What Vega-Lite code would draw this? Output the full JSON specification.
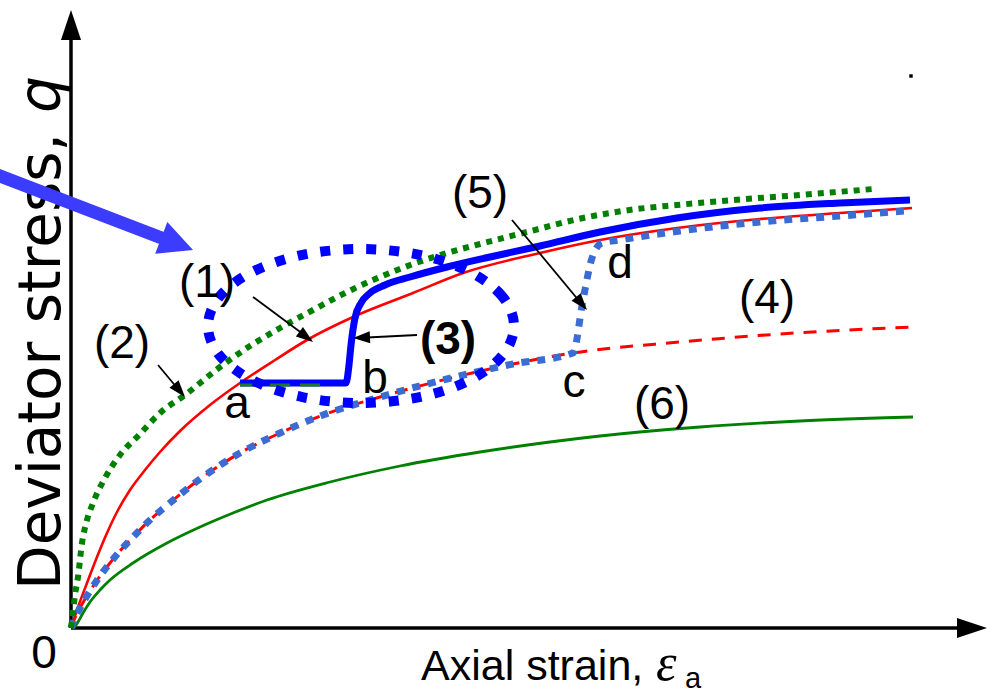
{
  "$schema": "https://vega.github.io/schema/vega-lite/v6.json",
  "width": 994,
  "height": 693,
  "autosize": {"type": "none"},
  "padding": 0,
  "background": "white",
  "config": {"view": {"stroke": null}},
  "datasets": {
    "curves": [
      {"c": "red", "x": 0, "y": 0}, {"c": "red", "x": 0.3, "y": 0.9}, {"c": "red", "x": 0.6, "y": 1.8}, {"c": "red", "x": 1.6, "y": 4.5}, {"c": "red", "x": 2.6, "y": 7.1}, {"c": "red", "x": 3.6, "y": 9.5}, {"c": "red", "x": 4.6, "y": 11.6}, {"c": "red", "x": 5.9, "y": 13.8}, {"c": "red", "x": 7.4, "y": 15.8}, {"c": "red", "x": 8.9, "y": 17.6}, {"c": "red", "x": 10.9, "y": 19.7}, {"c": "red", "x": 13.9, "y": 22.3}, {"c": "red", "x": 16.9, "y": 24.5}, {"c": "red", "x": 20.4, "y": 26.8}, {"c": "red", "x": 23.6, "y": 28.8}, {"c": "red", "x": 28.2, "y": 31.1}, {"c": "red", "x": 34.2, "y": 33.5}, {"c": "red", "x": 39.2, "y": 35.5}, {"c": "red", "x": 46.9, "y": 37.5}, {"c": "red", "x": 52.9, "y": 38.8}, {"c": "red", "x": 60.6, "y": 40.0}, {"c": "red", "x": 68.9, "y": 40.9}, {"c": "red", "x": 76.9, "y": 41.5}, {"c": "red", "x": 84.1, "y": 42.0},

      {"c": "reddash", "x": 0, "y": 0}, {"c": "reddash", "x": 0.3, "y": 0.8}, {"c": "reddash", "x": 0.9, "y": 2.0}, {"c": "reddash", "x": 1.9, "y": 3.7}, {"c": "reddash", "x": 2.9, "y": 5.2}, {"c": "reddash", "x": 3.9, "y": 6.5}, {"c": "reddash", "x": 4.9, "y": 7.7}, {"c": "reddash", "x": 6.4, "y": 9.3}, {"c": "reddash", "x": 7.9, "y": 10.8}, {"c": "reddash", "x": 9.4, "y": 12.1}, {"c": "reddash", "x": 12.9, "y": 14.9}, {"c": "reddash", "x": 16.9, "y": 17.5}, {"c": "reddash", "x": 20.9, "y": 19.5}, {"c": "reddash", "x": 25.2, "y": 21.3}, {"c": "reddash", "x": 30.9, "y": 23.1}, {"c": "reddash", "x": 37.6, "y": 24.9}, {"c": "reddash", "x": 44.2, "y": 26.4}, {"c": "reddash", "x": 50.2, "y": 27.5}, {"c": "reddash", "x": 60.9, "y": 28.6}, {"c": "reddash", "x": 70.9, "y": 29.4}, {"c": "reddash", "x": 84.2, "y": 30.1},

      {"c": "bluedot", "x": 0, "y": 0}, {"c": "bluedot", "x": 0.3, "y": 0.8}, {"c": "bluedot", "x": 0.9, "y": 2.0}, {"c": "bluedot", "x": 1.9, "y": 3.7}, {"c": "bluedot", "x": 2.9, "y": 5.2}, {"c": "bluedot", "x": 3.9, "y": 6.5}, {"c": "bluedot", "x": 4.9, "y": 7.7}, {"c": "bluedot", "x": 6.4, "y": 9.3}, {"c": "bluedot", "x": 7.9, "y": 10.8}, {"c": "bluedot", "x": 9.4, "y": 12.1}, {"c": "bluedot", "x": 12.9, "y": 14.9}, {"c": "bluedot", "x": 16.9, "y": 17.5}, {"c": "bluedot", "x": 20.9, "y": 19.5}, {"c": "bluedot", "x": 25.2, "y": 21.3}, {"c": "bluedot", "x": 30.9, "y": 23.1}, {"c": "bluedot", "x": 37.6, "y": 24.9}, {"c": "bluedot", "x": 44.2, "y": 26.4}, {"c": "bluedot", "x": 50.2, "y": 27.5}, {"c": "bluedot", "x": 51.2, "y": 32.8}, {"c": "bluedot", "x": 52.1, "y": 37.0}, {"c": "bluedot", "x": 53.1, "y": 38.5}, {"c": "bluedot", "x": 54.9, "y": 38.8}, {"c": "bluedot", "x": 60.9, "y": 39.7}, {"c": "bluedot", "x": 68.9, "y": 40.6}, {"c": "bluedot", "x": 76.9, "y": 41.2}, {"c": "bluedot", "x": 83.4, "y": 41.7},

      {"c": "greendot", "x": 0, "y": 0}, {"c": "greendot", "x": 0.2, "y": 1.6}, {"c": "greendot", "x": 0.4, "y": 3.3}, {"c": "greendot", "x": 0.7, "y": 5.1}, {"c": "greendot", "x": 1.1, "y": 8.5}, {"c": "greendot", "x": 1.6, "y": 10.8}, {"c": "greendot", "x": 2.2, "y": 12.5}, {"c": "greendot", "x": 3.4, "y": 15.0}, {"c": "greendot", "x": 4.9, "y": 17.3}, {"c": "greendot", "x": 6.9, "y": 19.4}, {"c": "greendot", "x": 8.9, "y": 21.5}, {"c": "greendot", "x": 11.4, "y": 23.3}, {"c": "greendot", "x": 14.9, "y": 26.1}, {"c": "greendot", "x": 17.9, "y": 28.2}, {"c": "greendot", "x": 20.9, "y": 30.0}, {"c": "greendot", "x": 24.2, "y": 31.8}, {"c": "greendot", "x": 27.6, "y": 33.6}, {"c": "greendot", "x": 30.9, "y": 35.1}, {"c": "greendot", "x": 34.2, "y": 36.4}, {"c": "greendot", "x": 37.6, "y": 37.5}, {"c": "greendot", "x": 40.9, "y": 38.4}, {"c": "greendot", "x": 45.6, "y": 39.6}, {"c": "greendot", "x": 51.2, "y": 41.0}, {"c": "greendot", "x": 56.6, "y": 41.9}, {"c": "greendot", "x": 60.6, "y": 42.3}, {"c": "greendot", "x": 66.2, "y": 42.8}, {"c": "greendot", "x": 72.9, "y": 43.3}, {"c": "greendot", "x": 80.2, "y": 43.9},

      {"c": "green", "x": 0.3, "y": 0}, {"c": "green", "x": 0.7, "y": 0.6}, {"c": "green", "x": 1.2, "y": 1.5}, {"c": "green", "x": 1.9, "y": 2.6}, {"c": "green", "x": 2.9, "y": 3.8}, {"c": "green", "x": 3.9, "y": 4.8}, {"c": "green", "x": 6.2, "y": 6.5}, {"c": "green", "x": 9.6, "y": 8.5}, {"c": "green", "x": 12.9, "y": 10.1}, {"c": "green", "x": 16.2, "y": 11.5}, {"c": "green", "x": 19.6, "y": 12.8}, {"c": "green", "x": 25.9, "y": 14.6}, {"c": "green", "x": 32.9, "y": 16.2}, {"c": "green", "x": 40.9, "y": 17.6}, {"c": "green", "x": 47.9, "y": 18.6}, {"c": "green", "x": 52.9, "y": 19.2}, {"c": "green", "x": 62.9, "y": 20.1}, {"c": "green", "x": 72.9, "y": 20.7}, {"c": "green", "x": 84.2, "y": 21.1},

      {"c": "thick", "x": 16.9, "y": 24.5}, {"c": "thick", "x": 27.5, "y": 24.5}, {"c": "thick", "x": 27.8, "y": 26.3}, {"c": "thick", "x": 28.0, "y": 28.3}, {"c": "thick", "x": 28.4, "y": 31.0}, {"c": "thick", "x": 29.0, "y": 32.5}, {"c": "thick", "x": 29.9, "y": 33.5}, {"c": "thick", "x": 31.4, "y": 34.3}, {"c": "thick", "x": 33.9, "y": 35.1}, {"c": "thick", "x": 37.6, "y": 36.1}, {"c": "thick", "x": 41.9, "y": 37.1}, {"c": "thick", "x": 46.9, "y": 38.2}, {"c": "thick", "x": 52.9, "y": 39.6}, {"c": "thick", "x": 60.6, "y": 41.0}, {"c": "thick", "x": 68.9, "y": 42.0}, {"c": "thick", "x": 76.9, "y": 42.5}, {"c": "thick", "x": 83.9, "y": 42.8},

      {"c": "greendash", "x": 16.9, "y": 24.3}, {"c": "greendash", "x": 25.0, "y": 24.3}
    ],
    "ellipse": [
      {"i": 0, "x": 44.3, "y": 30.2}, {"i": 1, "x": 43.14, "y": 33.15}, {"i": 2, "x": 39.82, "y": 35.64}, {"i": 3, "x": 34.86, "y": 37.31},
      {"i": 4, "x": 29.0, "y": 37.9}, {"i": 5, "x": 23.14, "y": 37.31}, {"i": 6, "x": 18.18, "y": 35.64}, {"i": 7, "x": 14.86, "y": 33.15},
      {"i": 8, "x": 13.7, "y": 30.2}, {"i": 9, "x": 14.86, "y": 27.25}, {"i": 10, "x": 18.18, "y": 24.76}, {"i": 11, "x": 23.14, "y": 23.09},
      {"i": 12, "x": 29.0, "y": 22.5}, {"i": 13, "x": 34.86, "y": 23.09}, {"i": 14, "x": 39.82, "y": 24.76}, {"i": 15, "x": 43.14, "y": 27.25}
    ],
    "segments": [
      {"id": "xaxis", "x": 0, "y": 0, "x2": 88.6, "y2": 0},
      {"id": "yaxis", "x": 0, "y": 0, "x2": 0, "y2": 58.9},
      {"id": "a1", "x": 18.2, "y": 33.1, "x2": 24.0, "y2": 28.8},
      {"id": "a2", "x": 8.7, "y": 26.3, "x2": 11.2, "y2": 23.3},
      {"id": "a3", "x": 34.6, "y": 29.3, "x2": 28.6, "y2": 29.0},
      {"id": "a5", "x": 44.1, "y": 40.8, "x2": 51.4, "y2": 32.0},
      {"id": "big", "x": -7.6, "y": 45.4, "x2": 9.2, "y2": 38.95}
    ],
    "heads": [
      {"id": "xaxis", "x": 91.6, "y": 0},
      {"id": "yaxis", "x": 0, "y": 61.8},
      {"id": "a1", "x": 24.2, "y": 28.6},
      {"id": "a2", "x": 11.4, "y": 23.1},
      {"id": "a3", "x": 28.2, "y": 29.0},
      {"id": "a5", "x": 51.6, "y": 31.8},
      {"id": "big", "x": 12.2, "y": 37.8}
    ],
    "labels": [
      {"t": "(1)", "x": 13.6, "y": 33.1},
      {"t": "(2)", "x": 5.1, "y": 27.0},
      {"t": "(4)", "x": 69.6, "y": 31.5},
      {"t": "(5)", "x": 40.9, "y": 42.0},
      {"t": "(6)", "x": 59.1, "y": 20.9},
      {"t": "a", "x": 16.6, "y": 21.0},
      {"t": "b", "x": 30.4, "y": 23.5},
      {"t": "c", "x": 50.3, "y": 23.1},
      {"t": "d", "x": 54.9, "y": 35.0},
      {"t": "0", "x": -2.7, "y": -4.0}
    ],
    "bold": [{"t": "(3)", "x": 37.7, "y": 27.4}],
    "ytitle": [{"t": "Deviator stress, ", "x": -1.1, "y": 3.8}],
    "yq": [{"t": "q", "x": -1.1, "y": 51.5}],
    "xtitle": [{"t": "Axial strain,", "x": 35.0, "y": -5.2}],
    "eps": [{"t": "ε", "x": 58.5, "y": -5.2}],
    "sub": [{"t": "a", "x": 61.4, "y": -6.0}],
    "dot": [{"x": 84.0, "y": 55.2}]
  },
  "encoding": {
    "x": {"field": "x", "type": "quantitative", "scale": {"domain": [-7.1, 92.3], "nice": false, "zero": false}, "axis": null},
    "y": {"field": "y", "type": "quantitative", "scale": {"domain": [-6.5, 62.8], "nice": false, "zero": false}, "axis": null}
  },
  "layer": [
    {"data": {"name": "segments"}, "transform": [{"filter": "datum.id == 'xaxis' || datum.id == 'yaxis'"}],
     "mark": {"type": "rule", "color": "black", "strokeWidth": 3.5},
     "encoding": {"x2": {"field": "x2"}, "y2": {"field": "y2"}}},
    {"data": {"name": "heads"}, "transform": [{"filter": "datum.id == 'xaxis'"}],
     "mark": {"type": "point", "shape": "M0,0L-2,-0.67L-2,0.67Z", "filled": true, "size": 900, "angle": 0, "color": "black", "opacity": 1, "strokeWidth": 0}},
    {"data": {"name": "heads"}, "transform": [{"filter": "datum.id == 'yaxis'"}],
     "mark": {"type": "point", "shape": "M0,0L-2,-0.67L-2,0.67Z", "filled": true, "size": 900, "angle": 270, "color": "black", "opacity": 1, "strokeWidth": 0}},

    {"data": {"name": "curves"}, "transform": [{"filter": "datum.c == 'green'"}],
     "mark": {"type": "line", "color": "#008000", "strokeWidth": 2.8, "interpolate": "monotone"}, "encoding": {}},
    {"data": {"name": "curves"}, "transform": [{"filter": "datum.c == 'red'"}],
     "mark": {"type": "line", "color": "#FF0000", "strokeWidth": 2.6, "interpolate": "monotone"}, "encoding": {}},
    {"data": {"name": "curves"}, "transform": [{"filter": "datum.c == 'reddash'"}],
     "mark": {"type": "line", "color": "#FF0000", "strokeWidth": 3, "strokeDash": [13, 10], "interpolate": "monotone"}, "encoding": {}},
    {"data": {"name": "curves"}, "transform": [{"filter": "datum.c == 'bluedot'"}],
     "mark": {"type": "line", "color": "#3A6CD4", "strokeWidth": 7, "strokeDash": [8, 8], "strokeCap": "butt", "interpolate": "monotone"}, "encoding": {}},
    {"data": {"name": "curves"}, "transform": [{"filter": "datum.c == 'greendot'"}],
     "mark": {"type": "line", "color": "#008000", "strokeWidth": 6, "strokeDash": [6, 6], "strokeCap": "butt", "interpolate": "monotone"}, "encoding": {}},
    {"data": {"name": "curves"}, "transform": [{"filter": "datum.c == 'thick'"}],
     "mark": {"type": "line", "color": "#0000FF", "strokeWidth": 7, "interpolate": "monotone"}, "encoding": {}},
    {"data": {"name": "curves"}, "transform": [{"filter": "datum.c == 'greendash'"}],
     "mark": {"type": "line", "color": "#1E7A1E", "strokeWidth": 3, "strokeDash": [20, 10]}, "encoding": {}},

    {"data": {"name": "ellipse"},
     "mark": {"type": "line", "color": "#0000FF", "strokeWidth": 10, "strokeDash": [10, 13], "strokeCap": "butt", "interpolate": "cardinal-closed"},
     "encoding": {"order": {"field": "i", "type": "quantitative"}}},

    {"data": {"name": "segments"}, "transform": [{"filter": "datum.id == 'a1' || datum.id == 'a2' || datum.id == 'a3' || datum.id == 'a5'"}],
     "mark": {"type": "rule", "color": "black", "strokeWidth": 1.8},
     "encoding": {"x2": {"field": "x2"}, "y2": {"field": "y2"}}},
    {"data": {"name": "heads"}, "transform": [{"filter": "datum.id == 'a1'"}],
     "mark": {"type": "point", "shape": "M0,0L-2,-0.7L-2,0.7Z", "filled": true, "size": 289, "angle": 36.9, "color": "black", "opacity": 1, "strokeWidth": 0}},
    {"data": {"name": "heads"}, "transform": [{"filter": "datum.id == 'a2'"}],
     "mark": {"type": "point", "shape": "M0,0L-2,-0.7L-2,0.7Z", "filled": true, "size": 289, "angle": 49.8, "color": "black", "opacity": 1, "strokeWidth": 0}},
    {"data": {"name": "heads"}, "transform": [{"filter": "datum.id == 'a3'"}],
     "mark": {"type": "point", "shape": "M0,0L-2,-0.7L-2,0.7Z", "filled": true, "size": 289, "angle": 177.3, "color": "black", "opacity": 1, "strokeWidth": 0}},
    {"data": {"name": "heads"}, "transform": [{"filter": "datum.id == 'a5'"}],
     "mark": {"type": "point", "shape": "M0,0L-2,-0.7L-2,0.7Z", "filled": true, "size": 289, "angle": 50.2, "color": "black", "opacity": 1, "strokeWidth": 0}},

    {"data": {"name": "labels"},
     "mark": {"type": "text", "font": "Liberation Sans", "fontSize": 46, "align": "center", "baseline": "alphabetic", "color": "black"},
     "encoding": {"text": {"field": "t"}}},
    {"data": {"name": "bold"},
     "mark": {"type": "text", "font": "Liberation Sans", "fontSize": 46, "fontWeight": "bold", "align": "center", "baseline": "alphabetic", "color": "black"},
     "encoding": {"text": {"field": "t"}}},
    {"data": {"name": "ytitle"},
     "mark": {"type": "text", "font": "DejaVu Sans", "fontSize": 58, "angle": 270, "align": "left", "baseline": "alphabetic", "color": "black"},
     "encoding": {"text": {"field": "t"}}},
    {"data": {"name": "yq"},
     "mark": {"type": "text", "font": "DejaVu Sans", "fontSize": 58, "fontStyle": "italic", "angle": 270, "align": "left", "baseline": "alphabetic", "color": "black"},
     "encoding": {"text": {"field": "t"}}},
    {"data": {"name": "xtitle"},
     "mark": {"type": "text", "font": "Liberation Sans", "fontSize": 43, "align": "left", "baseline": "alphabetic", "color": "black"},
     "encoding": {"text": {"field": "t"}}},
    {"data": {"name": "eps"},
     "mark": {"type": "text", "font": "Liberation Serif", "fontSize": 52, "fontStyle": "italic", "align": "left", "baseline": "alphabetic", "color": "black"},
     "encoding": {"text": {"field": "t"}}},
    {"data": {"name": "sub"},
     "mark": {"type": "text", "font": "Liberation Sans", "fontSize": 29, "align": "left", "baseline": "alphabetic", "color": "black"},
     "encoding": {"text": {"field": "t"}}},

    {"data": {"name": "segments"}, "transform": [{"filter": "datum.id == 'big'"}],
     "mark": {"type": "rule", "color": "#3C3CFF", "strokeWidth": 13},
     "encoding": {"x2": {"field": "x2"}, "y2": {"field": "y2"}}},
    {"data": {"name": "heads"}, "transform": [{"filter": "datum.id == 'big'"}],
     "mark": {"type": "point", "shape": "M0,0L-2,-1L-2,1Z", "filled": true, "size": 1156, "angle": 21, "color": "#3C3CFF", "opacity": 1, "strokeWidth": 0}},
    {"data": {"name": "dot"},
     "mark": {"type": "point", "shape": "square", "filled": true, "size": 12, "color": "black", "opacity": 1}}
  ]
}
